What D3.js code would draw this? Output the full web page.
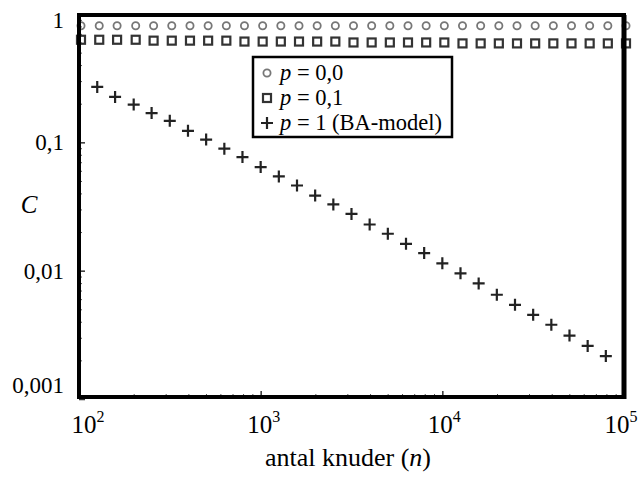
<html>
  <head>
    <script src="https://cdn.jsdelivr.net/npm/d3@7"></script>
    <style>
      body { margin: 0; background: #fff; }
    </style>
  </head>
  <body>
    <div id="container"></div>
    <script>
      // n values (antal knuder) for p = 0,0 and p = 0,1
      const nAll = [100, 126, 158, 200, 251, 316, 398, 501, 631, 794,
        1000, 1259, 1585, 1995, 2512, 3162, 3981, 5012, 6310, 7943,
        10000, 12589, 15849, 19953, 25119, 31623, 39811, 50119, 63096, 79433, 100000];
      const cP00 = [0.81, 0.81, 0.81, 0.81, 0.81, 0.81, 0.81, 0.81, 0.81, 0.81,
        0.81, 0.81, 0.81, 0.81, 0.81, 0.81, 0.81, 0.81, 0.81, 0.81,
        0.81, 0.81, 0.81, 0.81, 0.81, 0.81, 0.81, 0.81, 0.81, 0.81, 0.81];
      const cP01 = [0.63, 0.63, 0.63, 0.63, 0.62, 0.62, 0.62, 0.62, 0.62, 0.61,
        0.61, 0.61, 0.61, 0.61, 0.61, 0.6, 0.6, 0.6, 0.6, 0.6,
        0.6, 0.59, 0.59, 0.59, 0.59, 0.59, 0.59, 0.59, 0.59, 0.59, 0.59];
      // BA-model
      const nBA = [126, 158, 200, 251, 316, 398, 501, 631, 794,
        1000, 1259, 1585, 1995, 2512, 3162, 3981, 5012, 6310, 7943,
        10000, 12589, 15849, 19953, 25119, 31623, 39811, 50119, 63096, 79433];
      const cBA = [0.27, 0.226, 0.197, 0.169, 0.147, 0.123, 0.105, 0.0893, 0.0768,
        0.0641, 0.0542, 0.0461, 0.0385, 0.0328, 0.0277, 0.0229, 0.0194, 0.0162, 0.0137,
        0.0114, 0.00953, 0.00796, 0.00649, 0.00542, 0.00453, 0.00379, 0.00312, 0.00259, 0.00216];

      const xTicks = [100, 1000, 10000, 100000];
      const xTickExp = ["2", "3", "4", "5"];
      const yTicks = [1, 0.1, 0.01, 0.001];
      const yTickLabels = ["1", "0,1", "0,01", "0,001"];
      const legendLabels = [" = 0,0", " = 0,1", " = 1 (BA-model)"];

      const w = 641;
      const h = 479;
      const plotLeft = 79, plotRight = 624, plotTop = 15, plotBottom = 397;
      const serif = '"Liberation Serif", "Times New Roman", serif';

      const svg = d3
        .select("#container")
        .append("svg")
        .attr("width", w)
        .attr("height", h)
        .style("font-family", serif);

      svg.append("rect").attr("width", w).attr("height", h).attr("fill", "#fff");

      const x = d3.scaleLog().domain([100, 100000]).range([plotLeft, plotRight]);
      const y = d3.scaleLog().domain([0.001, 1]).range([399, 14]);

      // minor ticks
      const xMinor = [];
      const yMinor = [];
      [100, 1000, 10000].forEach((d) => {
        for (let k = 2; k < 10; k++) xMinor.push(d * k);
      });
      [0.001, 0.01, 0.1].forEach((d) => {
        for (let k = 2; k < 10; k++) yMinor.push(d * k);
      });

      svg
        .append("g")
        .attr("transform", `translate(0,${plotBottom})`)
        .call(d3.axisBottom(x).tickValues(xMinor).tickSize(-3).tickFormat(""))
        .call((g) => g.select(".domain").remove())
        .call((g) => g.selectAll("line").attr("stroke", "#555"));
      svg
        .append("g")
        .attr("transform", `translate(0,${plotBottom})`)
        .call(d3.axisBottom(x).tickValues(xTicks).tickSize(-6).tickFormat(""))
        .call((g) => g.select(".domain").remove())
        .call((g) => g.selectAll("line").attr("stroke", "#333").attr("stroke-width", 1.5));
      svg
        .append("g")
        .attr("transform", `translate(${plotLeft},0)`)
        .call(d3.axisLeft(y).tickValues(yMinor).tickSize(-3).tickFormat(""))
        .call((g) => g.select(".domain").remove())
        .call((g) => g.selectAll("line").attr("stroke", "#555"));
      svg
        .append("g")
        .attr("transform", `translate(${plotLeft},0)`)
        .call(d3.axisLeft(y).tickValues(yTicks).tickSize(-6).tickFormat(""))
        .call((g) => g.select(".domain").remove())
        .call((g) => g.selectAll("line").attr("stroke", "#333").attr("stroke-width", 1.5));

      // markers
      const circleMark = (sel) =>
        sel
          .append("circle")
          .attr("r", 3.6)
          .attr("fill", "none")
          .attr("stroke", "#777")
          .attr("stroke-width", 1.8);
      const squareMark = (sel) =>
        sel
          .append("rect")
          .attr("x", -4)
          .attr("y", -4)
          .attr("width", 8)
          .attr("height", 8)
          .attr("fill", "none")
          .attr("stroke", "#333")
          .attr("stroke-width", 2.2);
      const plusMark = (sel) =>
        sel
          .append("path")
          .attr("d", "M-6,0H6M0,-6V6")
          .attr("stroke", "#222")
          .attr("stroke-width", 2.2);

      svg
        .append("g")
        .selectAll("g")
        .data(nAll.map((n, i) => [n, cP00[i]]))
        .enter()
        .append("g")
        .attr("transform", (d) => `translate(${x(d[0]) + 2},${y(d[1])})`)
        .call(circleMark);
      svg
        .append("g")
        .selectAll("g")
        .data(nAll.map((n, i) => [n, cP01[i]]))
        .enter()
        .append("g")
        .attr("transform", (d) => `translate(${x(d[0]) + 2},${y(d[1])})`)
        .call(squareMark);
      svg
        .append("g")
        .selectAll("g")
        .data(nBA.map((n, i) => [n, cBA[i]]))
        .enter()
        .append("g")
        .attr("transform", (d) => `translate(${x(d[0])},${y(d[1])})`)
        .call(plusMark);

      // frame
      svg
        .append("rect")
        .attr("x", plotLeft)
        .attr("y", plotTop)
        .attr("width", plotRight - plotLeft)
        .attr("height", plotBottom - plotTop)
        .attr("fill", "none")
        .attr("stroke", "#000")
        .attr("stroke-width", 4);
      svg
        .append("line")
        .attr("x1", plotRight)
        .attr("x2", plotRight)
        .attr("y1", plotTop)
        .attr("y2", plotBottom + 2)
        .attr("stroke", "#000")
        .attr("stroke-width", 5);

      // legend
      const legend = svg.append("g").attr("transform", "translate(253,57)");
      legend
        .append("rect")
        .attr("width", 199)
        .attr("height", 80)
        .attr("fill", "#fff")
        .attr("stroke", "#000")
        .attr("stroke-width", 2.5);
      const marks = [circleMark, squareMark, plusMark];
      legendLabels.forEach((label, i) => {
        const row = legend.append("g").attr("transform", `translate(14,${16 + 25 * i})`);
        marks[i](row);
        const t = row
          .append("text")
          .attr("x", 13)
          .attr("y", 7)
          .attr("font-size", 22.5);
        t.append("tspan").attr("font-style", "italic").text("p");
        t.append("tspan").text(label);
      });

      // y tick labels
      const yNudge = [6, 0, 0, -14];
      svg
        .append("g")
        .selectAll("text")
        .data(yTicks)
        .enter()
        .append("text")
        .attr("x", 64)
        .attr("y", (d, i) => y(d) + yNudge[i] + 8)
        .attr("text-anchor", "end")
        .attr("font-size", 23)
        .text((d, i) => yTickLabels[i]);

      // x tick labels
      const xNudge = [9, 3, 2, -3];
      xTicks.forEach((d, i) => {
        const t = svg
          .append("text")
          .attr("x", x(d) + xNudge[i])
          .attr("y", 433)
          .attr("text-anchor", "middle")
          .attr("font-size", 25);
        t.append("tspan").text("10");
        t.append("tspan").attr("font-size", 16).attr("dy", -11).text(xTickExp[i]);
      });

      // axis titles
      const xt = svg
        .append("text")
        .attr("x", 348)
        .attr("y", 466)
        .attr("text-anchor", "middle")
        .attr("font-size", 26);
      xt.append("tspan").text("antal knuder (");
      xt.append("tspan").attr("font-style", "italic").text("n");
      xt.append("tspan").text(")");

      svg
        .append("text")
        .attr("x", 29)
        .attr("y", 213)
        .attr("text-anchor", "middle")
        .attr("font-size", 25)
        .attr("font-style", "italic")
        .text("C");
    </script>
  </body>
</html>
